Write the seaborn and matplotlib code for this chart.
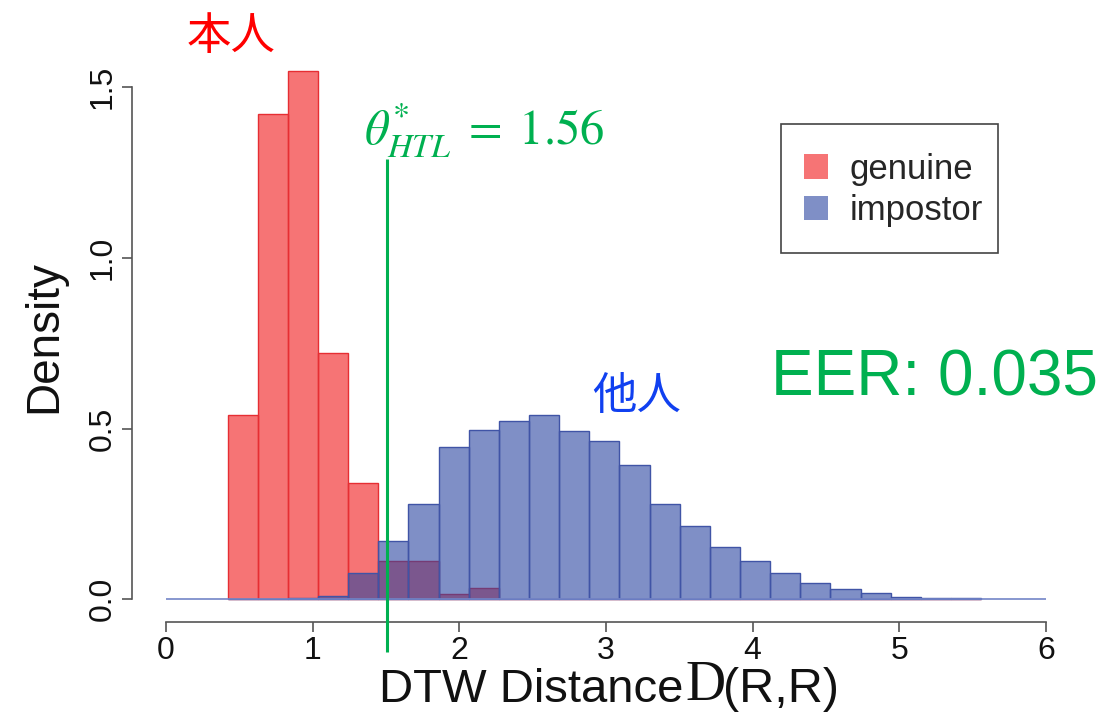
import matplotlib
matplotlib.use('Agg')
import matplotlib.pyplot as plt
from matplotlib.patches import Patch, Rectangle
import pandas as pd
import seaborn as sns

# Histogram data (density per bin)
bin_start = 0.42
bin_width = 0.2055
genuine_density = [0.54, 1.42, 1.545, 0.72, 0.34, 0.112, 0.112, 0.015, 0.032, 0, 0, 0, 0,
                   0, 0, 0, 0, 0, 0, 0, 0, 0, 0, 0, 0]
impostor_density = [0, 0.002, 0.004, 0.009, 0.076, 0.172, 0.278, 0.447, 0.496, 0.522,
                    0.540, 0.493, 0.462, 0.394, 0.279, 0.216, 0.152, 0.113, 0.078, 0.047,
                    0.029, 0.018, 0.006, 0.003, 0.003]
series_names = ['genuine', 'impostor']
threshold_x = 1.51
threshold_label = r'$\theta^{*}_{HTL}\;=\;1.56$'
eer_label = 'EER: 0.035'
x_ticks = [0, 1, 2, 3, 4, 5, 6]
y_ticks = [0.0, 0.5, 1.0, 1.5]

n_bins = len(genuine_density)
bin_edges = [bin_start + bin_width * i for i in range(n_bins + 1)]
bin_centers = [(bin_edges[i] + bin_edges[i + 1]) / 2 for i in range(n_bins)]
df = pd.DataFrame({'center': bin_centers,
                   'genuine': genuine_density,
                   'impostor': impostor_density})

sns.set_style('ticks')
plt.rcParams['font.family'] = ['Liberation Sans', 'DejaVu Sans']
plt.rcParams['mathtext.fontset'] = 'stix'

W, H = 1104, 712
fig = plt.figure(figsize=(W / 100, H / 100), dpi=100)
ax = fig.add_axes([166 / W, 1 - 606.2 / H, 880 / W, 560.4 / H])

red = (0.95, 0.12, 0.13)
blue = (0.165, 0.267, 0.627)

sns.histplot(data=df, x='center', weights='genuine', bins=bin_edges, ax=ax,
             color=red, alpha=0.62, edgecolor=(0.9, 0.18, 0.2), linewidth=1.0)
sns.histplot(data=df, x='center', weights='impostor', bins=bin_edges, ax=ax,
             color=blue, alpha=0.6, edgecolor=(0.25, 0.33, 0.65), linewidth=1.0)
ax.axhline(0, color=(0.45, 0.52, 0.78), lw=1.2, zorder=1)

ax.set_xlim(0, 6)
ax.set_ylim(-0.02, 1.62)
ax.set_xlabel('')
ax.set_ylabel('')

for s in ['top', 'right']:
    ax.spines[s].set_visible(False)
ax.spines['left'].set_position(('outward', 24.7))
ax.spines['bottom'].set_position(('outward', 11.2))
ax.spines['left'].set_bounds(0, 1.5)
ax.spines['bottom'].set_bounds(0, 6)
for s in ['left', 'bottom']:
    ax.spines[s].set_color('#555555')
    ax.spines[s].set_linewidth(1.2)

ax.set_xticks(x_ticks)
ax.set_xticklabels([str(t) for t in x_ticks])
ax.set_yticks(y_ticks)
ax.set_yticklabels([f'{t:.1f}' for t in y_ticks], rotation=90, va='center')
ax.tick_params(axis='both', length=7, width=1.2, color='#555555',
               labelsize=23, labelcolor='#111111', pad=3)

# threshold line
ax.vlines(threshold_x, -0.155, 1.29, color='#00B050', lw=2.2, clip_on=False, zorder=5)

# annotations
green = '#00B050'
fig.text(364 / W, 1 - 145 / H, threshold_label, color=green, fontsize=35,
         ha='left', va='baseline')
fig.text(1098 / W, 1 - 395 / H, eer_label, color=green, fontsize=46,
         ha='right', va='baseline')
cjk = ['Noto Sans CJK JP', 'DejaVu Sans']
fig.text(231 / W, 1 - 36 / H, '本人', color='#FF0000', fontsize=32,
         ha='center', va='center', family=cjk)
fig.text(637 / W, 1 - 396 / H, '他人', color='#1040F0', fontsize=32,
         ha='center', va='center', family=cjk)

# axis labels
fig.text(44 / W, 1 - 336 / H, 'Density', rotation=90, fontsize=33,
         ha='center', va='center', color='#111111')
fig.text(683 / W, 1 - 702 / H, 'DTW Distance', fontsize=34,
         ha='right', va='baseline', color='#111111')
fig.text(685 / W, 1 - 700 / H, 'D', fontsize=40, family='Liberation Serif',
         ha='left', va='baseline', color='#111111')
fig.text(723 / W, 1 - 702 / H, '(R,R)', fontsize=35,
         ha='left', va='baseline', color='#111111')

# legend
handles = [Patch(facecolor=red, alpha=0.62, edgecolor='none'),
           Patch(facecolor=blue, alpha=0.6, edgecolor='none')]
leg = fig.legend(handles, series_names, loc='center left',
                 bbox_to_anchor=(804 / W, 1 - 190 / H), fontsize=25,
                 frameon=False, handlelength=0.7, handleheight=0.7,
                 handletextpad=0.6, labelspacing=0.25, borderpad=0,
                 borderaxespad=0)
fig.patches.append(Rectangle((781 / W, 1 - 253 / H), 217 / W, 129 / H,
                             transform=fig.transFigure, fill=False,
                             edgecolor='#444444', lw=1.2))

fig.savefig('out.png', dpi=100)
